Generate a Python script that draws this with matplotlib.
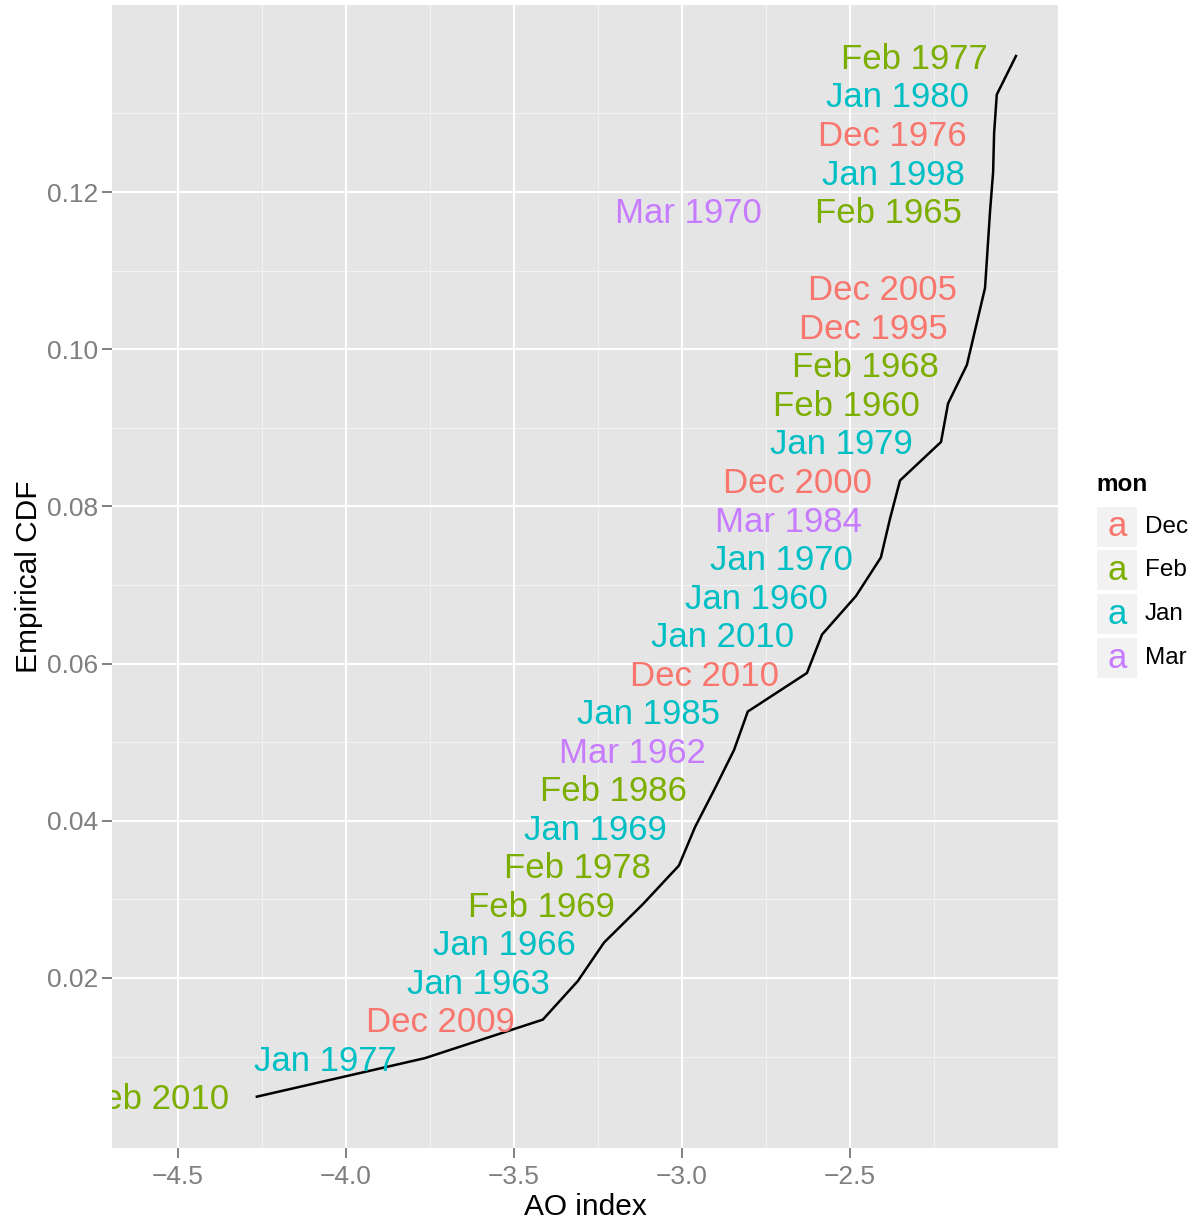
import matplotlib.pyplot as plt
from matplotlib.patches import Rectangle

plt.rcParams['font.family'] = ['Liberation Sans', 'DejaVu Sans']

# labelled months: month, year, AO index, empirical CDF
months = ['Feb', 'Jan', 'Dec', 'Jan', 'Jan', 'Feb', 'Feb', 'Jan', 'Feb', 'Mar',
          'Jan', 'Dec', 'Jan', 'Jan', 'Jan', 'Mar', 'Dec', 'Jan', 'Feb', 'Feb',
          'Dec', 'Dec', 'Mar', 'Feb', 'Jan', 'Dec', 'Jan', 'Feb']
years = [2010, 1977, 2009, 1963, 1966, 1969, 1978, 1969, 1986, 1962,
         1985, 2010, 2010, 1960, 1970, 1984, 2000, 1979, 1960, 1968,
         1995, 2005, 1970, 1965, 1998, 1976, 1980, 1977]
ao = [-4.265, -3.765, -3.414, -3.310, -3.232, -3.116, -3.009, -2.961, -2.902, -2.845,
      -2.804, -2.628, -2.583, -2.482, -2.408, -2.381, -2.351, -2.229, -2.208, -2.152,
      -2.125, -2.098, -2.679, -2.083, -2.074, -2.071, -2.063, -2.006]
cdf = [0.0049, 0.0098, 0.0147, 0.0196, 0.0245, 0.0294, 0.0343, 0.0392, 0.0441, 0.0490,
       0.0539, 0.0588, 0.0637, 0.0686, 0.0735, 0.0784, 0.0833, 0.0882, 0.0931, 0.0980,
       0.1029, 0.1078, 0.1176, 0.1176, 0.1225, 0.1275, 0.1324, 0.1373]

# ecdf line
line_ao = [-4.265, -3.765, -3.414, -3.310, -3.232, -3.116, -3.009, -2.961, -2.902, -2.845,
           -2.804, -2.628, -2.583, -2.482, -2.408, -2.381, -2.351, -2.229, -2.208, -2.152,
           -2.125, -2.098, -2.083, -2.074, -2.071, -2.063, -2.006]
line_cdf = [0.0049, 0.0098, 0.0147, 0.0196, 0.0245, 0.0294, 0.0343, 0.0392, 0.0441, 0.0490,
            0.0539, 0.0588, 0.0637, 0.0686, 0.0735, 0.0784, 0.0833, 0.0882, 0.0931, 0.0980,
            0.1029, 0.1078, 0.1176, 0.1225, 0.1275, 0.1324, 0.1373]

legend_months = ['Dec', 'Feb', 'Jan', 'Mar']
colors = {'Dec': '#F8766D', 'Feb': '#7CAE00', 'Jan': '#00BFC4', 'Mar': '#C77CFF'}

xticks = [-4.5, -4.0, -3.5, -3.0, -2.5]
xminor = [-4.25, -3.75, -3.25, -2.75, -2.25]
yticks = [0.02, 0.04, 0.06, 0.08, 0.10, 0.12]
yminor = [0.01, 0.03, 0.05, 0.07, 0.09, 0.11, 0.13]

fig = plt.figure(figsize=(11.98, 12.24), dpi=100)
ax = fig.add_axes([0.0935, 0.0621, 0.7896, 0.9338])
ax.set_facecolor('#E5E5E5')
for s in ax.spines.values():
    s.set_visible(False)

for v in xminor:
    ax.axvline(v, color='#F2F2F2', lw=0.8, zorder=0)
for v in yminor:
    ax.axhline(v, color='#F2F2F2', lw=0.8, zorder=0)
for v in xticks:
    ax.axvline(v, color='white', lw=1.5, zorder=0)
for v in yticks:
    ax.axhline(v, color='white', lw=1.5, zorder=0)

ax.plot(line_ao, line_cdf, color='black', lw=1.8, zorder=2)

for m, yr, x, y in zip(months, years, ao, cdf):
    ax.annotate('%s %d' % (m, yr), xy=(x - 0.083, y), xytext=(0, -2.2),
                textcoords='offset points', ha='right', va='center',
                fontsize=25, color=colors[m], annotation_clip=False,
                clip_on=True, zorder=3)

ax.set_xlim(-4.696, -1.881)
ax.set_ylim(-0.00163, 0.14379)
ax.set_xticks(xticks)
ax.set_xticklabels(['\u22124.5', '\u22124.0', '\u22123.5', '\u22123.0', '\u22122.5'])
ax.set_yticks(yticks)
ax.set_yticklabels(['0.02', '0.04', '0.06', '0.08', '0.10', '0.12'])
ax.tick_params(length=7, width=1.4, color='#7F7F7F', labelcolor='#7F7F7F',
               labelsize=19)
ax.tick_params(axis='x', pad=5)
ax.tick_params(axis='y', pad=3)
ax.set_xlabel('AO index', fontsize=21.5, labelpad=3)
ax.set_ylabel('Empirical CDF', fontsize=21.5, labelpad=3)

# legend drawn by hand, ggplot style
fig.text(1096 / 1198, 1 - 485 / 1224, 'mon', fontsize=17.5, fontweight='bold',
         ha='left', va='center')
key_tops = [507, 550, 594, 638]
for m, top in zip(legend_months, key_tops):
    fig.patches.append(Rectangle((1097 / 1198, 1 - (top + 40) / 1224), 40 / 1198, 40 / 1224,
                                 transform=fig.transFigure, facecolor='#F2F2F2',
                                 edgecolor='none'))
    fig.text(1117 / 1198, 1 - (top + 20) / 1224, 'a', color=colors[m], fontsize=25,
             ha='center', va='center')
    fig.text(1145 / 1198, 1 - (top + 20) / 1224, m, fontsize=17.5, ha='left', va='center')

plt.savefig('out.png', dpi=100)
